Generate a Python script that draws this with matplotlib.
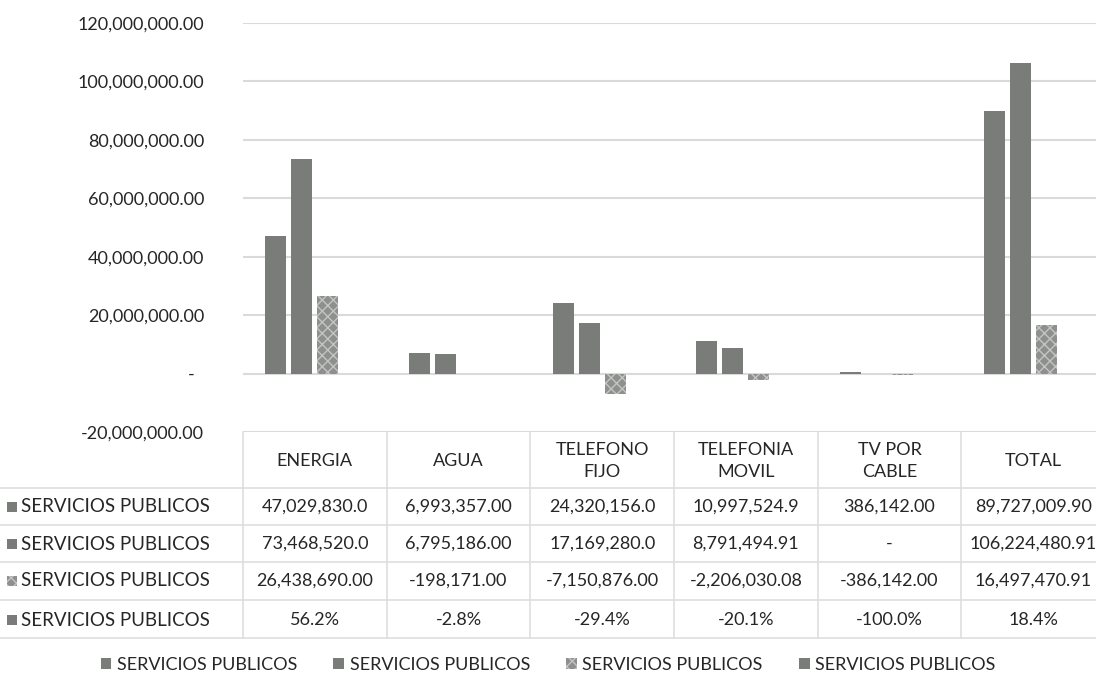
import numpy as np
import matplotlib
matplotlib.use('Agg')
import matplotlib.pyplot as plt
from matplotlib.patches import Rectangle, Patch
from matplotlib.ticker import FuncFormatter

plt.rcParams['font.family'] = ['Lato', 'DejaVu Sans']
plt.rcParams['hatch.linewidth'] = 1.0

categories = ['ENERGIA', 'AGUA', 'TELEFONO\nFIJO', 'TELEFONIA\nMOVIL', 'TV POR\nCABLE', 'TOTAL']
series_names = ['SERVICIOS PUBLICOS'] * 4
s1 = [47029830.0, 6993357.0, 24320156.0, 10997524.9, 386142.0, 89727009.9]
s2 = [73468520.0, 6795186.0, 17169280.0, 8791494.91, 0.0, 106224480.91]
s3 = [26438690.0, -198171.0, -7150876.0, -2206030.08, -386142.0, 16497470.91]
pct = [0.562, -0.028, -0.294, -0.201, -1.0, 0.184]

# text shown in the data table (as Excel prints it)
row1_text = ['47,029,830.0', '6,993,357.00', '24,320,156.0', '10,997,524.9', '386,142.00', '89,727,009.90']
row2_text = ['73,468,520.0', '6,795,186.00', '17,169,280.0', '8,791,494.91', '-', '106,224,480.91']
row3_text = ['26,438,690.00', '-198,171.00', '-7,150,876.00', '-2,206,030.08', '-386,142.00', '16,497,470.91']
row4_text = ['56.2%', '-2.8%', '-29.4%', '-20.1%', '-100.0%', '18.4%']

W, H = 1096, 690
TXT = '#262626'
BAR = '#7a7c7a'
GRID = '#dadada'
FS = 13


def fx(px):
    return px / W


def fy(py):
    return 1 - py / H


fig = plt.figure(figsize=(W / 100, H / 100), dpi=100)
ax_left, ax_right, ax_top, ax_bot = 243, 1105, 23, 432
ax = fig.add_axes([fx(ax_left), fy(ax_bot), fx(ax_right - ax_left), (ax_bot - ax_top) / H])

x = np.arange(len(categories))
step, bw = 0.181, 0.146
styles = [dict(color=BAR), dict(color=BAR),
          dict(facecolor='#8e908e', edgecolor='#c4c4c4', hatch='xxx', linewidth=0),
          dict(color=BAR)]
for i, vals in enumerate([s1, s2, s3, pct]):
    ax.bar(x + (i - 1.5) * step, vals, bw, zorder=3, **styles[i])

ax.set_xlim(-0.5, len(categories) - 0.5)
ax.set_ylim(-20e6, 120e6)
ax.set_yticks(np.arange(-20e6, 121e6, 20e6))
ax.yaxis.set_major_formatter(FuncFormatter(lambda v, p: '-  ' if v == 0 else f'{v:,.2f}'))
ax.tick_params(axis='y', length=0, pad=28, labelsize=FS, labelcolor=TXT)
ax.set_xticks([])
ax.grid(axis='y', color=GRID, linewidth=1.5, zorder=0)
for s in ax.spines.values():
    s.set_visible(False)

# data table under the plot
col_w = (ax_right - ax_left) / len(categories)
centers = [ax_left + col_w * (k + 0.5) for k in range(len(categories))]
line_kw = dict(color='#dedede', linewidth=1.2)
for k in range(len(categories) + 1):
    xb = ax_left + col_w * k
    fig.add_artist(plt.Line2D([fx(xb), fx(xb)], [fy(432), fy(638)], **line_kw))
for yb in [488, 525, 562, 600, 638]:
    fig.add_artist(plt.Line2D([fx(0), fx(W)], [fy(yb), fy(yb)], **line_kw))

for c, lab in zip(centers, categories):
    fig.text(fx(c), fy(461), lab, ha='center', va='center', fontsize=FS,
             color=TXT, linespacing=1.45)

row_y = [507, 544, 581, 620]
rows = [row1_text, row2_text, row3_text, row4_text]
for r, (yy, texts) in enumerate(zip(row_y, rows)):
    st = styles[r]
    fig.add_artist(Rectangle((fx(7), fy(yy + 5)), fx(10), 10 / H,
                             facecolor=st.get('facecolor', st.get('color')),
                             edgecolor=st.get('edgecolor', 'none'), hatch=st.get('hatch'),
                             linewidth=0))
    fig.text(fx(21), fy(yy), series_names[r], ha='left', va='center',
             fontsize=FS + 0.5, color=TXT)
    for c, t in zip(centers, texts):
        fig.text(fx(c), fy(yy), t, ha='center', va='center', fontsize=FS, color=TXT)

handles = [Patch(**{k: v for k, v in st.items() if k != 'linewidth'}, linewidth=0) for st in styles]
fig.legend(handles, series_names, loc='center', bbox_to_anchor=(0.5, fy(665)), ncol=4,
           frameon=False, fontsize=FS, labelcolor=TXT, handlelength=0.6,
           handleheight=0.6, handletextpad=0.3, columnspacing=2.0)

fig.savefig('out.png', dpi=100, facecolor='white')
